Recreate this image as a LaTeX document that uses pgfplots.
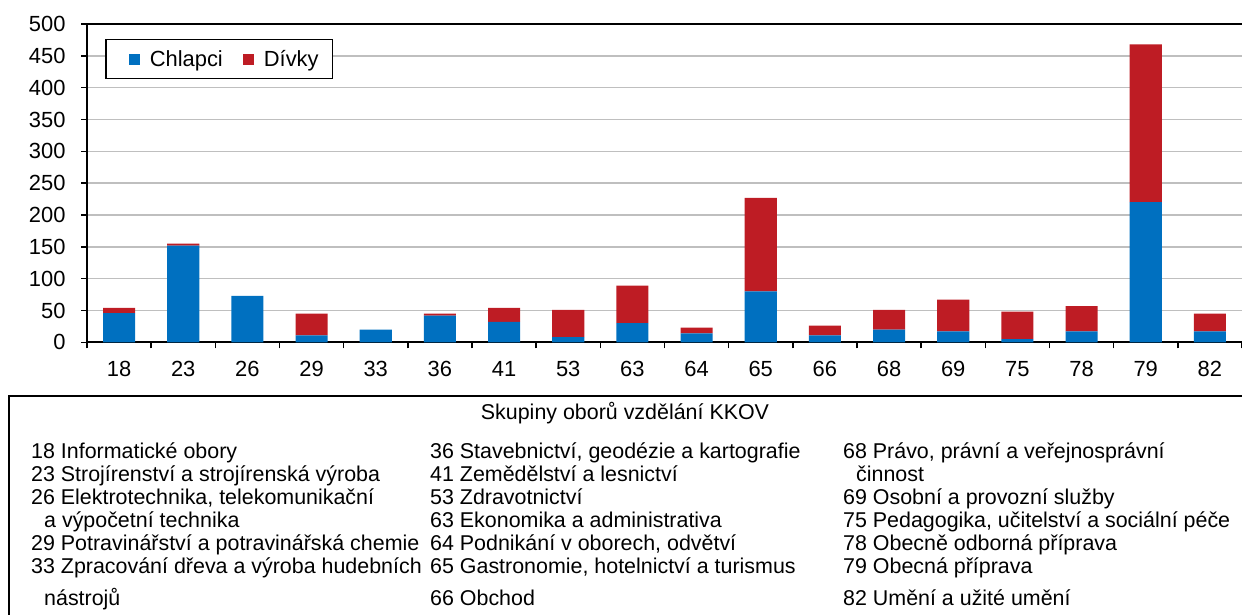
\documentclass[border=0pt]{standalone}
\usepackage{fontspec}
\setmainfont{Liberation Sans}
\usepackage{pgfplots}
\pgfplotsset{compat=1.18}
\definecolor{cblue}{RGB}{0,112,192}
\definecolor{cred}{RGB}{190,28,36}
\newcommand{\tf}{\fontsize{22}{26}\selectfont}
\newcommand{\lf}{\fontsize{21.5}{25}\selectfont}
\begin{document}
\begin{tikzpicture}[x=1bp,y=1bp]
\useasboundingbox (0,0) rectangle (1242,615);
\begin{axis}[
  at={(87bp,272.7bp)}, anchor=south west,
  scale only axis, width=1155bp, height=318.3bp,
  ybar stacked, bar width=0.5,
  xmin=-0.5, xmax=17.5, ymin=0, ymax=500,
  xtick={0,...,17},
  xticklabels={18,23,26,29,33,36,41,53,63,64,65,66,68,69,75,78,79,82},
  minor xtick={-0.5,0.5,...,17.5},
  ytick={0,50,...,500},
  ymajorgrids, grid style={draw=black!25, line width=1.5bp},
  axis x line*=box, axis y line*=left,
  axis line style={black, line width=1.6bp},
  tick align=outside, tick pos=left,
  major tick length=6bp, minor tick length=6bp,
  major x tick style={draw=none},
  minor x tick style={black, line width=1.5bp},
  ytick style={black, line width=1.5bp},
  /pgf/number format/assume math mode=true,
  ticklabel style={font=\tf},
  yticklabel style={xshift=-12bp},
  xticklabel style={yshift=-9bp, text height=16bp, text depth=0bp},
  legend columns=2,
  legend style={at={(0.0156,0.953)}, anchor=north west, draw=black, line width=1.5bp,
    font=\tf, inner xsep=12bp, inner ysep=8.5bp,
    /tikz/every even column/.append style={column sep=7bp}},
  legend image code/.code={\path (-11bp,0bp); \fill[#1] (0bp,-5.5bp) rectangle (11bp,5.5bp); \path (19bp,0bp);},
]
\addplot[fill=cblue, draw=none] coordinates {(0,46) (1,152) (2,73) (3,11) (4,20) (5,42) (6,32) (7,8) (8,30) (9,14) (10,80) (11,11) (12,20) (13,17) (14,5) (15,17) (16,220) (17,17)};
\addplot[fill=cred, draw=none] coordinates {(0,8) (1,3) (2,0) (3,34) (4,0) (5,3) (6,22) (7,43) (8,59) (9,9) (10,147) (11,15) (12,31) (13,50) (14,43) (15,40) (16,248) (17,28)};
\legend{Chlapci, Dívky}
\end{axis}
\draw[line width=1.5bp] (9,-10) rectangle (1260,219);
\node[font=\lf] at (625,202) {Skupiny oborů vzdělání KKOV};
\begin{scope}[every node/.style={anchor=base west, inner sep=0pt, font=\lf}]
\node at (31,615-459) {18 Informatické obory};
\node at (31,615-482) {23 Strojírenství a strojírenská výroba};
\node at (31,615-505) {26 Elektrotechnika, telekomunikační};
\node at (44,615-528) {a výpočetní technika};
\node at (31,615-551) {29 Potravinářství a potravinářská chemie};
\node at (31,615-574) {33 Zpracování dřeva a výroba hudebních};
\node at (44,615-606) {nástrojů};
\node at (430,615-459) {36 Stavebnictví, geodézie a kartografie};
\node at (430,615-482) {41 Zemědělství a lesnictví};
\node at (430,615-505) {53 Zdravotnictví};
\node at (430,615-528) {63 Ekonomika a administrativa};
\node at (430,615-551) {64 Podnikání v oborech, odvětví};
\node at (430,615-574) {65 Gastronomie, hotelnictví a turismus};
\node at (430,615-606) {66 Obchod};
\node at (843,615-459) {68 Právo, právní a veřejnosprávní};
\node at (856,615-482) {činnost};
\node at (843,615-505) {69 Osobní a provozní služby};
\node at (843,615-528) {75 Pedagogika, učitelství a sociální péče};
\node at (843,615-551) {78 Obecně odborná příprava};
\node at (843,615-574) {79 Obecná příprava};
\node at (843,615-606) {82 Umění a užité umění};
\end{scope}
\end{tikzpicture}
\end{document}
